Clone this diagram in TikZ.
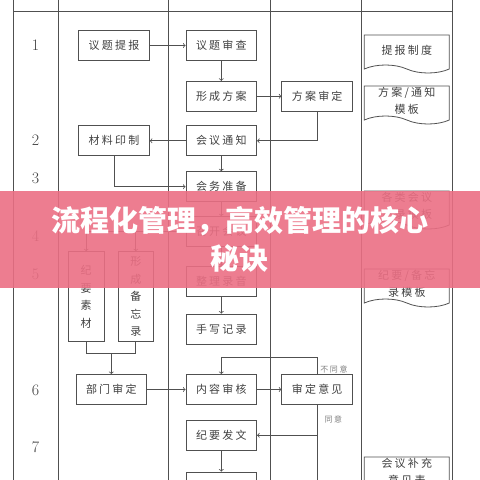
\documentclass[tikz,border=0pt]{standalone}
\usepackage{fontspec}
\usepackage{xcolor}
\usepackage{tikz}
\usetikzlibrary{
    shapes,
    shapes.symbols,
    positioning,
    calc,
    arrows
}
\newfontfamily\cjk[LetterSpace=20]{Noto Sans CJK SC}
\newfontfamily\cjkhead{Noto Sans CJK SC}
\definecolor{ln}{HTML}{505050}
\definecolor{txt}{HTML}{404040}
\definecolor{pinkband}{HTML}{EB6F84}
\tikzset{
  grid/.style = {
      draw=ln,
      line width=0.8pt
  },
  proc/.style = {
      draw=ln,
      line width=0.8pt,
      rectangle,
      minimum width=70.7pt,
      minimum height=30pt,
      inner sep=0pt,
      text=txt,
      font=\cjk\fontsize{11}{13}\selectfont
  },
  vproc/.style = {
      proc,
      minimum width=35.7pt,
      minimum height=90pt,
      text width=12pt,
      align=center,
      font=\cjk\fontsize{11}{17.5}\selectfont
  },
  doc/.style = {
      proc,
      tape,
      tape bend top=none,
      tape bend bottom=out and in,
      tape bend height=8pt,
      minimum width=85pt,
      minimum height=38pt,
      align=center,
      font=\cjk\fontsize{11}{17}\selectfont
  },
  num/.style = {
      text=txt,
      font=\fontsize{16}{16}\selectfont
  },
  note/.style = {
      text=gray,
      inner sep=0pt,
      font=\cjk\fontsize{8}{8}\selectfont
  },
  arr/.style = {
      draw=ln,
      line width=0.8pt,
      ->
  },
  banner/.style = {
      fill=pinkband,
      fill opacity=0.9,
      text opacity=1,
      text=white,
      minimum width=480pt,
      minimum height=97pt,
      inner sep=0pt,
      align=center,
      font=\cjkhead\bfseries\fontsize{29}{38}\selectfont
  }
}
\begin{document}
\begin{tikzpicture}[x=1pt,y=-1pt]
    \useasboundingbox (0,0) rectangle (480,480);
    % Table
    \foreach \x in {13,58.7,168.7,270,361,452}
        \draw[grid] (\x,-5) -- (\x,485);
    \draw[grid] (13,11) -- (452,11);
    % Steps
    \foreach \n/\y in {1/45,2/140,3/178,4/236,5/274,6/390,7/447}
        \node[num] (s\n) at (35.5,\y) {\n};
    % Nodes
    \node[proc] (tibao) at (114,45.5) {议题提报};
    \node[proc] (shencha) at (221.3,45.5) {议题审查};
    \node[proc] (fangan) at (221.3,96.3) {形成方案};
    \node[proc] (shending) at (317.2,96.3) {方案审定};
    \node[proc] (yinzhi) at (114,140.8) {材料印制};
    \node[proc] (tongzhi) at (221.3,140.8) {会议通知};
    \node[proc] (zhunbei) at (221.3,186.7) {会务准备};
    \node[proc] (zhaokai) at (221.3,231.7) {召开会议};
    \node[proc] (luyin) at (221.3,281.7) {整理录音};
    \node[proc] (jilu) at (221.3,329) {手写记录};
    \node[vproc] (sucai) at (86.2,296.7) {纪\\要\\素\\材};
    \node[vproc] (beiwang) at (135.8,296.7) {形\\成\\备\\忘\\录};
    \node[proc] (bumen) at (111.3,389.5) {部门审定};
    \node[proc] (neirong) at (221.3,389.5) {内容审核};
    \node[proc] (yijian) at (317.2,389.5) {审定意见};
    \node[proc] (fawen) at (221.3,435.3) {纪要发文};
    \node[proc] (next) at (221.3,487) {};
    % Templates
    \node[doc] (zhidu) at (406.8,50) {提报制度};
    \node[doc] (moban1) at (406.8,101) {方案/通知\\模板};
    \node[doc] (moban2) at (406.8,206) {各类会议\\记录模板};
    \node[doc] (moban3) at (406.8,284) {纪要/备忘\\录模板};
    \node[doc] (biao) at (406.8,472) {会议补充\\意见表};
    % Edges
    \draw[arr] (tibao) -- (shencha);
    \draw[arr] (shencha) -- (fangan);
    \draw[arr] (fangan) -- (shending);
    \draw[arr] (shending.south) |- (tongzhi.east);
    \draw[arr] (tongzhi) -- (yinzhi);
    \draw[arr] (tongzhi) -- (zhunbei);
    \draw[arr] (yinzhi.south) |- (zhunbei.west);
    \draw[arr] (zhunbei) -- (zhaokai);
    \draw[arr] (zhaokai) -- (luyin);
    \draw[arr] (luyin) -- (jilu);
    \coordinate (split) at (beiwang.north |- zhaokai.west);
    \draw[arr] (zhaokai.west) -| (sucai.north);
    \draw[arr] (split) -- (beiwang.north);
    \coordinate (join) at (111.3,353.3);
    \draw[grid] (sucai.south) |- (join) -| (beiwang.south);
    \draw[arr] (join) -- (bumen);
    \draw[arr] (bumen) -- (neirong);
    \draw[arr] (neirong) -- (yijian);
    \draw[arr] (yijian.north) -- ++(0,-16.6) -| (neirong.north);
    \node[note] (butongyi) at (334,369) {不同意};
    \draw[arr] (yijian.south) |- (fawen.east);
    \coordinate (end) at (317.2,490);
    \draw[grid] (yijian.south) -- (end);
    \node[note] (tongyi) at (333.3,419.3) {同意};
    \draw[arr] (fawen) -- (next);
    % Banner
    \node[banner] (title) at (240,239.2) {流程化管理，高效管理的核心\\秘诀};
\end{tikzpicture}
\end{document}
